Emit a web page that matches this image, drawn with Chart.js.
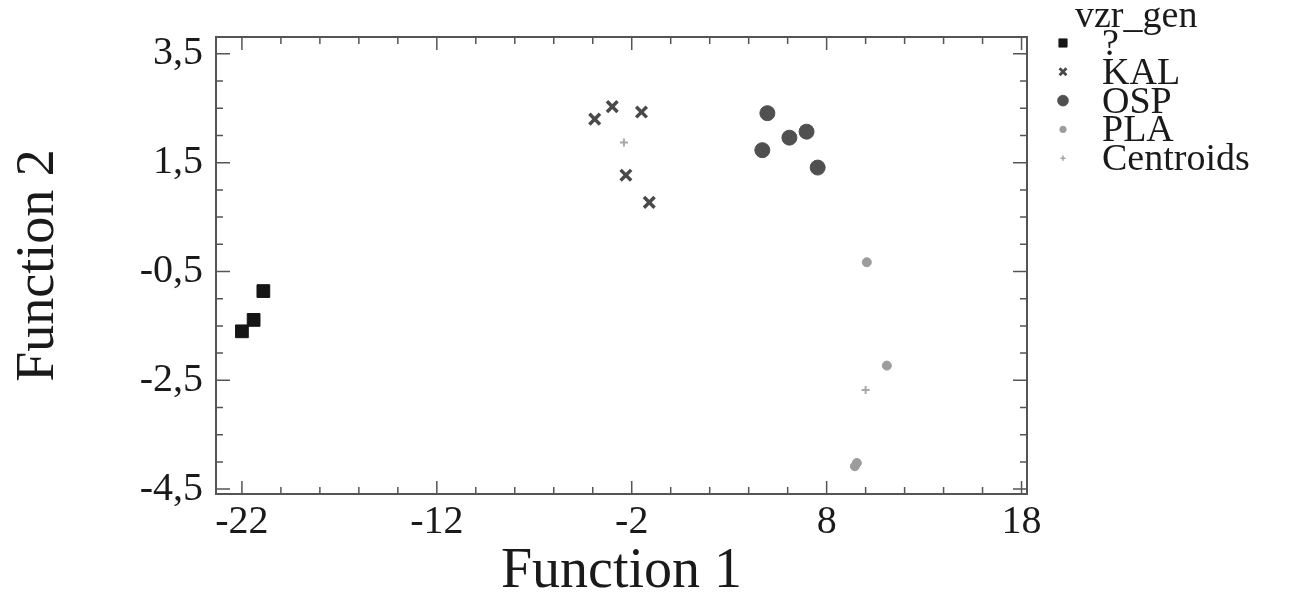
<!DOCTYPE html>
<html>
<head>
<meta charset="utf-8">
<script src="https://cdn.jsdelivr.net/npm/chart.js@4.4.1/dist/chart.umd.min.js"></script>
<style>
  html, body { margin: 0; background: #fff; }
  #wrap { width: 1303px; height: 608px; }
</style>
</head>
<body>
<div id="wrap"><canvas id="myChart"></canvas></div>
<script>
// discriminant scores
const unknownX = [-22.0, -21.4, -20.9];
const unknownY = [-1.60, -1.39, -0.86];
const kalX = [-3.9, -3.0, -1.5, -2.3, -1.1];
const kalY = [2.30, 2.53, 2.43, 1.27, 0.77];
const ospX = [4.96, 6.09, 6.97, 4.70, 7.54];
const ospY = [2.41, 1.96, 2.07, 1.73, 1.41];
const plaX = [10.06, 11.09, 9.55, 9.45];
const plaY = [-0.33, -2.23, -4.02, -4.08];
const centroidX = [-2.4, 6.05, 10.0];
const centroidY = [1.87, 1.92, -2.68];

const legendTitle = 'vzr_gen';
const groupNames = ['?', 'KAL', 'OSP', 'PLA', 'Centroids'];
const xTickLabels = [-22, -12, -2, 8, 18];
const yTickLabels = [3.5, 1.5, -0.5, -2.5, -4.5];

const serif = '"Liberation Serif", "DejaVu Serif", serif';

function pts(xs, ys) {
  return xs.map((x, i) => ({ x: x, y: ys[i] }));
}

const markerStyles = [
  { pointStyle: 'rect', radius: 9, color: '#151515', borderWidth: 1 },
  { pointStyle: 'crossRot', radius: 7.5, color: '#4a4a4a', borderWidth: 3.5 },
  { pointStyle: 'circle', radius: 7.5, color: '#505050', borderWidth: 1 },
  { pointStyle: 'circle', radius: 4.5, color: '#9c9c9c', borderWidth: 1 },
  { pointStyle: 'cross', radius: 4, color: '#a8a8a8', borderWidth: 2 }
];

const seriesData = [
  pts(unknownX, unknownY),
  pts(kalX, kalY),
  pts(ospX, ospY),
  pts(plaX, plaY),
  pts(centroidX, centroidY)
];

const datasets = groupNames.map((name, i) => ({
  label: name,
  data: seriesData[i],
  pointStyle: markerStyles[i].pointStyle,
  pointRadius: markerStyles[i].radius,
  pointHoverRadius: markerStyles[i].radius,
  pointBackgroundColor: markerStyles[i].color,
  pointBorderColor: markerStyles[i].color,
  pointBorderWidth: markerStyles[i].borderWidth
}));

// box round the plot, with inward ticks on all four sides
const framePlugin = {
  id: 'frame',
  beforeDatasetsDraw(chart) {
    const { ctx, chartArea: a, scales } = chart;
    ctx.save();
    ctx.strokeStyle = '#555';
    ctx.lineWidth = 2;
    ctx.strokeRect(a.left, a.top, a.right - a.left, a.bottom - a.top);
    ctx.lineWidth = 1.5;
    ctx.beginPath();
    for (let v = -22; v <= 18; v += 2) {
      const px = scales.x.getPixelForValue(v);
      const len = (v + 22) % 10 === 0 ? 13 : 7;
      ctx.moveTo(px, a.bottom); ctx.lineTo(px, a.bottom - len);
      ctx.moveTo(px, a.top); ctx.lineTo(px, a.top + len);
    }
    for (let k = 0; k <= 16; k++) {
      const v = -4.5 + k * 0.5;
      const py = scales.y.getPixelForValue(v);
      const len = k % 4 === 0 ? 14 : 7;
      ctx.moveTo(a.left, py); ctx.lineTo(a.left + len, py);
      ctx.moveTo(a.right, py); ctx.lineTo(a.right - len, py);
    }
    ctx.stroke();
    ctx.restore();
  }
};

// legend on the right, drawn with the library's own point shapes
const legendPlugin = {
  id: 'sideLegend',
  afterDraw(chart) {
    const ctx = chart.ctx;
    ctx.save();
    ctx.font = '38px ' + serif;
    ctx.textBaseline = 'middle';
    ctx.textAlign = 'left';
    ctx.fillStyle = '#1a1a1a';
    ctx.fillText(legendTitle, 1075, 17);
    groupNames.forEach((name, i) => {
      const y = 43 + i * 28.8;
      const m = markerStyles[i];
      const r = m.pointStyle === 'circle' ? m.radius * 0.72 : m.radius * 0.65;
      ctx.fillStyle = m.color;
      ctx.strokeStyle = m.color;
      ctx.lineWidth = m.borderWidth * 0.8;
      Chart.helpers.drawPoint(ctx, { pointStyle: m.pointStyle, radius: r, borderWidth: m.borderWidth * 0.8, rotation: 0 }, 1063, y);
      ctx.fillStyle = '#1a1a1a';
      ctx.fillText(name, 1102, y + 2);
    });
    ctx.restore();
  }
};

const ctx = document.getElementById('myChart');
const myChart = new Chart(ctx, {
  type: 'scatter',
  data: { datasets: datasets },
  options: {
    responsive: true,
    maintainAspectRatio: false,
    animation: false,
    devicePixelRatio: 1,
    layout: { padding: { top: 30, right: 276, left: 0, bottom: 0 } },
    plugins: { legend: { display: false }, tooltip: { enabled: false } },
    scales: {
      x: {
        type: 'linear',
        min: -23.33,
        max: 18.28,
        afterBuildTicks: s => { s.ticks = xTickLabels.map(v => ({ value: v })); },
        afterFit: s => { s.height = 114; },
        grid: { display: false, drawTicks: false },
        border: { display: false },
        ticks: {
          autoSkip: false, maxRotation: 0, padding: 4, color: '#1a1a1a',
          font: { family: serif, size: 40 },
          callback: v => String(v)
        },
        title: {
          display: true, text: 'Function 1', color: '#1a1a1a',
          font: { family: serif, size: 56 }, padding: { top: 0, bottom: 2 }
        }
      },
      y: {
        type: 'linear',
        min: -4.59,
        max: 3.81,
        afterBuildTicks: s => { s.ticks = yTickLabels.map(v => ({ value: v })); },
        afterFit: s => { s.width = 216; },
        grid: { display: false, drawTicks: false },
        border: { display: false },
        ticks: {
          autoSkip: false, padding: 13, color: '#1a1a1a',
          font: { family: serif, size: 40 },
          callback: v => v.toFixed(1).replace('.', ',')
        },
        title: {
          display: true, text: 'Function 2', color: '#1a1a1a',
          font: { family: serif, size: 54 }, padding: { top: 6, bottom: 0 }
        }
      }
    }
  },
  plugins: [framePlugin, legendPlugin]
});
</script>
</body>
</html>
